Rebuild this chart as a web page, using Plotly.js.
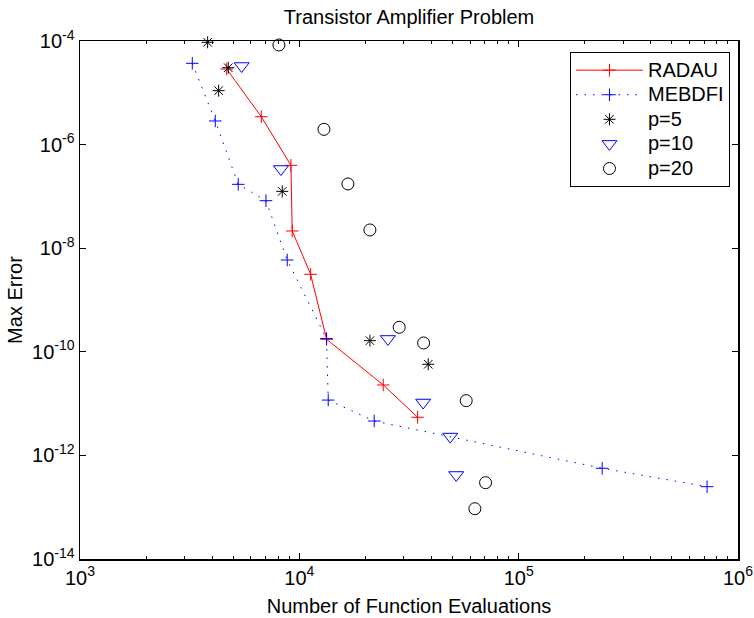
<!DOCTYPE html>
<html>
<head>
<meta charset="utf-8">
<script src="https://cdn.plot.ly/plotly-3.0.1.min.js"></script>
<style>html,body{margin:0;padding:0;background:#fff;}#chart{width:754px;height:618px;}</style>
</head>
<body>
<div id="chart"></div>
<script>
// RADAU
var radauN   = [4663, 6706, 9155, 9281, 11260, 13318, 24130, 34610];
var radauErr = [2.88e-5, 3.46e-6, 3.98e-7, 2.15e-8, 3.13e-9, 1.74e-10, 2.29e-11, 5.44e-12];
// MEBDFI
var mebdfiN   = [3250, 4138, 5265, 7044, 8806, 13300, 13544, 21950, 240300, 722800];
var mebdfiErr = [3.71e-5, 2.86e-6, 1.71e-7, 8.26e-8, 5.92e-9, 1.8e-10, 1.17e-11, 4.61e-12, 5.64e-13, 2.49e-13];
// p=5
var p5N   = [3819, 4742, 4287, 8359, 20980, 38690];
var p5Err = [9.44e-5, 3.05e-5, 1.10e-5, 1.25e-7, 1.64e-10, 5.74e-11];
// p=10
var p10N   = [5458, 8244, 25340, 36700, 48740, 51890];
var p10Err = [3.29e-5, 3.38e-7, 1.77e-10, 1.05e-11, 2.31e-12, 4.19e-13];
// p=20
var p20N   = [8070, 12950, 16650, 20980, 28530, 36860, 57640, 70650, 63150];
var p20Err = [8.37e-5, 1.97e-6, 1.74e-7, 2.25e-8, 2.97e-10, 1.48e-10, 1.14e-11, 2.97e-13, 9.35e-14];

var seriesNames = ['RADAU', 'MEBDFI', 'p=5', 'p=10', 'p=20'];

var xTickVals = [1e3, 1e4, 1e5, 1e6];
var xTickText = ['10<sup>3</sup>', '10<sup>4</sup>', '10<sup>5</sup>', '10<sup>6</sup>'];
var yTickVals = [1e-14, 1e-12, 1e-10, 1e-8, 1e-6, 1e-4];
var yTickText = ['10<sup>-14</sup>', '10<sup>-12</sup>', '10<sup>-10</sup>', '10<sup>-8</sup>', '10<sup>-6</sup>', '10<sup>-4</sup>'];

var xMinor = [];
[1e3, 1e4, 1e5].forEach(function (d) { for (var k = 2; k <= 9; k++) xMinor.push(k * d); });

function legendName(s) { return '<span style="font-size:20px">' + s + '</span>'; }

var traces = [
  {x: radauN, y: radauErr, name: legendName(seriesNames[0]), mode: 'lines+markers', cliponaxis: false,
   line: {color: '#ff0000', width: 1},
   marker: {symbol: 'cross-thin-open', size: 9, color: '#ff0000', line: {color: '#ff0000', width: 1}}},
  {x: mebdfiN, y: mebdfiErr, name: legendName(seriesNames[1]), mode: 'lines+markers', cliponaxis: false,
   line: {color: '#0000ff', width: 1, dash: '1.5px,7px'},
   marker: {symbol: 'cross-thin-open', size: 9, color: '#0000ff', line: {color: '#0000ff', width: 1}}},
  {x: p5N, y: p5Err, name: legendName(seriesNames[2]), mode: 'markers', cliponaxis: false,
   marker: {symbol: 'asterisk-open', size: 10, color: '#000000', line: {color: '#000000', width: 1}}},
  {x: p10N, y: p10Err, name: legendName(seriesNames[3]), mode: 'markers', cliponaxis: false,
   marker: {symbol: 'triangle-down-open', size: 13, color: '#0000ff', line: {color: '#0000ff', width: 1}}},
  {x: p20N, y: p20Err, name: legendName(seriesNames[4]), mode: 'markers', cliponaxis: false,
   marker: {symbol: 'circle-open', size: 12, color: '#000000', line: {color: '#000000', width: 1}}}
];

var layout = {
  width: 754, height: 618, autosize: false,
  paper_bgcolor: '#ffffff', plot_bgcolor: '#ffffff',
  margin: {l: 80, r: 16, t: 41, b: 59, pad: 0},
  font: {family: 'Liberation Sans, Arial, sans-serif', size: 20, color: '#000000'},
  title: {text: 'Transistor Amplifier Problem', x: 0.5425, xanchor: 'center', y: 0.972, yanchor: 'middle', yref: 'container',
          font: {size: 20, color: '#000000'}},
  showlegend: true,
  legend: {x: 0.9878, xanchor: 'right', y: 0.979, yanchor: 'top', bgcolor: '#ffffff',
           bordercolor: '#000000', borderwidth: 1, itemwidth: 67, font: {size: 16.6}, tracegroupgap: 0},
  xaxis: {type: 'log', range: [3, 6], tickmode: 'array', tickvals: xTickVals, ticktext: xTickText,
          ticks: 'inside', ticklen: 6, tickwidth: 1, tickcolor: '#000000',
          showline: true, linecolor: '#000000', linewidth: 1.5, mirror: 'ticks',
          showgrid: false, zeroline: false,
          minor: {tickmode: 'array', tickvals: xMinor, ticks: 'inside', ticklen: 3, tickcolor: '#000000', tickwidth: 1, showgrid: false},
          title: {text: 'Number of Function Evaluations', standoff: 11, font: {size: 20}}},
  yaxis: {type: 'log', range: [-14, -4], tickmode: 'array', tickvals: yTickVals, ticktext: yTickText,
          ticks: 'inside', ticklen: 6, tickwidth: 1, tickcolor: '#000000',
          showline: true, linecolor: '#000000', linewidth: 1.5, mirror: 'ticks',
          showgrid: false, zeroline: false,
          title: {text: 'Max Error', standoff: 4, font: {size: 20}}}
};

Plotly.newPlot('chart', traces, layout, {displayModeBar: false, staticPlot: true});
</script>
</body>
</html>
